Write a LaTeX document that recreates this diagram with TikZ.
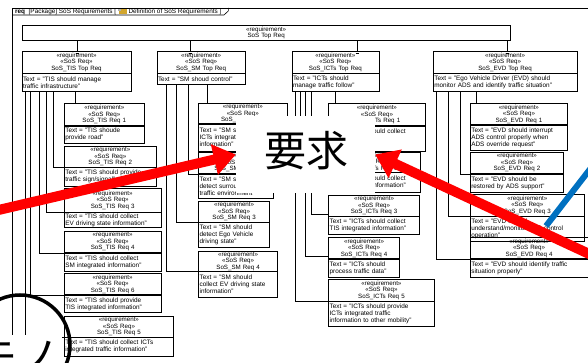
\documentclass[tikz,border=0pt]{standalone}
\usepackage{fontspec}
\setmainfont{Liberation Sans}
\newfontfamily\cjk{Noto Sans CJK JP}
\usetikzlibrary{arrows.meta}
\newcommand{\reqbox}[8]{%
  \pgfmathsetmacro\rqw{#4-#2-2}%
  \pgfmathsetmacro\rqh{#5-#3}%
  \pgfmathsetmacro\rqb{#6-#5}%
  \node[hdr, text width=\rqw pt, minimum height=\rqh pt] (#1h) at (#2,#3) {«requirement»\\«SoS Req»\\#7};
  \node[bdy, text width=\rqw pt, minimum height=\rqb pt] (#1) at (#1h.south west) {#8};
}
\begin{document}
\begin{tikzpicture}[x=1pt,y=-1pt,
  hdr/.style={draw=black, line width=0.6pt, anchor=north west, inner xsep=1pt, inner ysep=0pt, align=center, font=\fontsize{6.2}{6.5}\selectfont},
  bdy/.style={draw=black, line width=0.6pt, anchor=north west, inner xsep=1pt, inner ysep=0pt, align=left, font=\fontsize{6.4}{7}\selectfont},
  conn/.style={draw=black, line width=0.5pt},
  frm/.style={draw=black, line width=0.6pt},
  tabtxt/.style={anchor=west, inner sep=0, font=\fontsize{6.4}{7}\selectfont},
  redarr/.style={draw=red, line width=10pt, -{Triangle[length=22pt 0 0, width=30pt 0 0]}},
  blueline/.style={draw={rgb,255:red,0;green,112;blue,192}, line width=6pt},
]
\useasboundingbox (0,0) rectangle (588,363);
% frame
\draw[frm] (12.7,400) -- (12.7,8) -- (600,8);
\draw[frm] (12.7,15) -- (224,15) -- (228.3,11) -- (228.3,8);
\node[tabtxt] (tab1) at (15,11.6) {\textbf{req}\ \ [Package] SoS Requirements [};
\node[anchor=west, inner sep=0, minimum width=8pt, minimum height=4.8pt, fill=brown!70!yellow] (icon) at ([xshift=2pt]tab1.east) {};
\fill[gray!60] (icon.north west) rectangle ([xshift=3pt, yshift=-2pt]icon.north west);
\node[tabtxt] (tab2) at ([xshift=1.5pt]icon.east) {Definition of SoS Requirements ]};
% top requirement
\node[hdr, text width=486.3pt, minimum height=15pt] (toprq) at (21.7,25) {«requirement»\\SoS Top Req};
% level 1
\reqbox{tisT}{21.7}{50.7}{130.7}{72.7}{90}{SoS\_TIS Top Req}{Text = "TIS should manage\\traffic infrastructure"}
\reqbox{smT}{156.7}{50.7}{245}{72.7}{83.3}{SoS\_SM Top Req}{Text = "SM shoud control"}
\reqbox{ictT}{291.7}{50.7}{378.5}{72.7}{90}{SoS\_ICTs Top Req}{Text = "ICTs should\\manage traffic follow"}
\reqbox{evdT}{433}{50.7}{576.5}{72.7}{90}{SoS\_EVD Top Req}{Text = "Ego Vehicle Driver (EVD) should\\monitor ADS and identify traffic situation"}
% TIS
\reqbox{tis1}{64}{103.3}{144}{125}{142.3}{SoS\_TIS Req 1}{Text = "TIS shoude\\provide road"}
\reqbox{tis2}{64}{146}{156}{166.7}{185}{SoS\_TIS Req 2}{Text = "TIS should provide\\traffic sign/signal"}
\reqbox{tis3}{64}{188.3}{160.7}{211.7}{226.7}{SoS\_TIS Req 3}{Text = "TIS should collect\\EV driving state information"}
\reqbox{tis4}{64}{230.7}{160.7}{252.3}{270}{SoS\_TIS Req 4}{Text = "TIS should collect\\SM integrated information"}
\reqbox{tis6}{64}{273.3}{160.7}{294.3}{311.7}{SoS\_TIS Req 6}{Text = "TIS should provide\\TIS integrated information"}
\reqbox{tis5}{64}{316}{173.3}{336.7}{355}{SoS\_TIS Req 5}{Text = "TIS should collect ICTs\\integrated traffic information"}
% SM
\reqbox{sm1}{198.3}{103.3}{286.7}{123.3}{150}{SoS\_SM Req 1}{Text = "SM should collect\\ICTs integrated traffic\\information"}
\reqbox{sm2}{198.3}{151.7}{273.3}{173.3}{197.7}{SoS\_SM Req 2}{Text = "SM should\\detect surrounding\\traffic environment"}
\reqbox{sm3}{198.3}{201}{269.3}{221.7}{246.7}{SoS\_SM Req 3}{Text = "SM should\\detect Ego Vehicle\\driving state"}
\reqbox{sm4}{198.3}{250.7}{277.3}{270.7}{296}{SoS\_SM Req 4}{Text = "SM should\\collect EV driving state\\information"}
% ICTs
\reqbox{ict1}{328.3}{103.3}{425}{125}{150}{SoS\_ICTs Req 1}{Text = "ICTs should collect\\EV driving state\\information"}
\reqbox{ict2}{328.3}{151.7}{420}{171.7}{191.7}{SoS\_ICTs Req 2}{Text = "ICTs should collect\\SM integrated information"}
\reqbox{ict3}{328.3}{195}{419.3}{215.7}{233.3}{SoS\_ICTs Req 3}{Text = "ICTs should collect\\TIS integrated information"}
\reqbox{ict4}{328.3}{237.3}{399.3}{258.3}{276}{SoS\_ICTs Req 4}{Text = "ICTs should\\process traffic data"}
\reqbox{ict5}{328.3}{279.3}{434}{300.7}{325.7}{SoS\_ICTs Req 5}{Text = "ICTs should provide\\ICTs integrated traffic\\information to other mobility"}
% EVD
\reqbox{evd1}{470}{103.3}{567.3}{124}{149.3}{SoS\_EVD Req 1}{Text = "EVD should interrupt\\ADS control properly when\\ADS override request"}
\reqbox{evd2}{470}{151.7}{563.3}{173.3}{191.7}{SoS\_EVD Req 2}{Text = "EVD should be\\restored by ADS support"}
\reqbox{evd3}{470}{194.3}{584}{215.7}{240.7}{SoS\_EVD Req 3}{Text = "EVD should\\understand/monitor ADS control\\operation"}
\reqbox{evd4}{470}{237.3}{587.5}{258.3}{276}{SoS\_EVD Req 4}{Text = "EVD should identify traffic\\situation properly"}
% top ticks
\foreach \b/\s in {tisT/55.3, smT/33.3, ictT/65.3, evdT/74}{
  \draw[conn] ([xshift=\s pt]\b h.north west) -- ([xshift=\s pt]\b h.north west |- toprq.south);
  \draw[conn] ([xshift=\s pt-1.5pt, yshift=-2.5pt]\b h.north west) -- ([xshift=\s pt+1.5pt, yshift=-2.5pt]\b h.north west);
}
% TIS connectors
\draw[conn] ([xshift=53.3pt]tisT.south west) -- ([xshift=11pt]tis1h.north west);
\draw[conn] ([xshift=31.6pt]tisT.south west) |- (tis2h.south west);
\draw[conn] ([xshift=25pt]tisT.south west) |- (tis3h.south west);
\draw[conn] ([xshift=17.6pt]tisT.south west) |- (tis4h.south west);
\draw[conn] ([xshift=9pt]tisT.south west) |- (tis6h.south west);
\draw[conn] ([xshift=3.3pt]tisT.south west) |- (tis5h.south west);
% SM connectors
\draw[conn] ([xshift=50.3pt]smT.south west) -- ([xshift=8.7pt]sm1h.north west);
\draw[conn] ([xshift=31.6pt]smT.south west) |- (sm2h.south west);
\draw[conn] ([xshift=20pt]smT.south west) |- (sm3h.south west);
\draw[conn] ([xshift=10pt]smT.south west) |- (sm4h.south west);
% ICTs connectors
\draw[conn] ([xshift=43.3pt]ictT.south west) -- ([xshift=6.7pt]ict1h.north west);
\draw[conn] ([xshift=8.3pt]ictT.south west) |- (ict2h.south west);
\draw[conn] ([xshift=20pt]ictT.south west) |- ([yshift=1.7pt]ict3h.south west);
\draw[conn] ([xshift=13.3pt]ictT.south west) |- ([yshift=2.3pt]ict4h.south west);
\draw[conn] ([xshift=3.3pt]ictT.south west) |- (ict5h.south west);
% EVD connectors
\draw[conn] ([xshift=43.7pt]evdT.south west) -- ([xshift=6.7pt]evd1h.north west);
\draw[conn] ([xshift=27.7pt]evdT.south west) |- (evd2h.south west);
\draw[conn] ([xshift=15.3pt]evdT.south west) |- (evd3h.south west);
\draw[conn] ([xshift=3.7pt]evdT.south west) |- (evd4h.south west);
% overlays
\coordinate (b1) at (594,164);
\coordinate (b2) at (546,226);
\draw[blueline] (b1) -- (b2);
\node[fill=white, inner sep=0, minimum width=139pt, minimum height=77pt] (yokyu) at (305.5,154.5) {};
\node[inner sep=0, font=\cjk\fontsize{42}{42}\selectfont] (yokyuT) at (306,151) {要求};
\coordinate (la) at (-10,212);
\coordinate (ra) at (600,259);
\draw[redarr] (la) -- (yokyu.west);
\draw[redarr] (ra) -- (yokyu.east);
\node[fill=white, inner sep=0, anchor=north east, minimum width=100pt, minimum height=50pt] (monoBg) at (62,335) {};
\node[inner sep=0, anchor=base east, font=\cjk\fontsize{42}{42}\selectfont] (monoT) at (60,372) {モノ};
\draw[line width=3.5pt] (20,345) circle[radius=50pt];
\end{tikzpicture}
\end{document}
